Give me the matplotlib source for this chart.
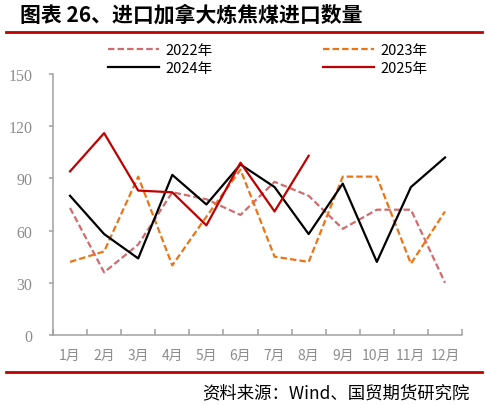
import matplotlib
matplotlib.use("Agg")
import matplotlib.pyplot as plt
from matplotlib.lines import Line2D

plt.rcParams['font.family'] = ['Noto Sans CJK SC', 'DejaVu Sans']

months = ['1月', '2月', '3月', '4月', '5月', '6月', '7月', '8月', '9月', '10月', '11月', '12月']
y2022 = [73, 36, 52, 82, 78, 69, 88, 80, 61, 72, 72, 30]
y2023 = [42, 48, 91, 40, 68, 95, 45, 42, 91, 91, 41, 71]
y2024 = [80, 58, 44, 92, 75, 98, 85, 58, 87, 42, 85, 102]
y2025 = [94, 116, 83, 82, 63, 99, 71, 103]
yticks = [0, 30, 60, 90, 120, 150]

c2022 = '#D06B6E'
c2023 = '#EC7414'
c2024 = '#000000'
c2025 = '#C00000'
grey = '#8C8C8C'

fig = plt.figure(figsize=(4.87, 4.06), dpi=100)
ax = fig.add_axes([0.1088, 0.1724, 0.84, 0.643])

x = list(range(1, 13))
dash = (0, (2.9, 1.4))
l22, = ax.plot(x, y2022, color=c2022, lw=1.6, linestyle=dash)
l23, = ax.plot(x, y2023, color=c2023, lw=1.6, linestyle=dash)
l24, = ax.plot(x, y2024, color=c2024, lw=1.6)
l25, = ax.plot(x[:len(y2025)], y2025, color=c2025, lw=1.6)

ax.set_xlim(0.5, 12.5)
ax.set_ylim(0, 150)
ax.set_yticks(yticks)
ax.set_yticklabels([str(v) for v in yticks], family='Liberation Serif', fontsize=11.5, color=grey)
ax.set_xticks(x)
ax.set_xticklabels(months, fontsize=10, color=grey)
ax.set_xticks([i + 0.5 for i in range(0, 13)], minor=True)
ax.tick_params(axis='x', which='major', length=0, pad=9)
ax.tick_params(axis='x', which='minor', direction='in', length=4, color='#A0A0A0', width=1.1)
ax.tick_params(axis='y', direction='out', length=3, color='#A0A0A0', width=1.1, pad=12)

for s in ['top', 'right']:
    ax.spines[s].set_visible(False)
for s in ['left', 'bottom']:
    ax.spines[s].set_color('#A0A0A0')
    ax.spines[s].set_linewidth(1.1)

# legend: 2 columns, order 2022/2024 in col 1, 2023/2025 in col 2
fig.legend([l22, l24, l23, l25], ['2022年', '2024年', '2023年', '2025年'],
           ncol=2, loc='center', bbox_to_anchor=(0.55, 0.852),
           frameon=False, fontsize=10.5, handlelength=3.5, handletextpad=0.45,
           columnspacing=7.6, labelspacing=0.25)

# title and red rules
fig.text(0.041, 0.963, '图表 26、进口加拿大炼焦煤进口数量', fontsize=15, fontweight='bold',
         va='center', ha='left')
fig.add_artist(Line2D([6 / 487, 482 / 487], [1 - 33 / 406, 1 - 33 / 406],
                      color='#C00000', lw=2.0))
fig.add_artist(Line2D([6 / 487, 482 / 487], [1 - 373 / 406, 1 - 373 / 406],
                      color='#C00000', lw=2.0))
fig.text(470 / 487, 1 - 393 / 406, '资料来源：Wind、国贸期货研究院', fontsize=12.5,
         va='center', ha='right')

fig.savefig('out.png', dpi=100)
